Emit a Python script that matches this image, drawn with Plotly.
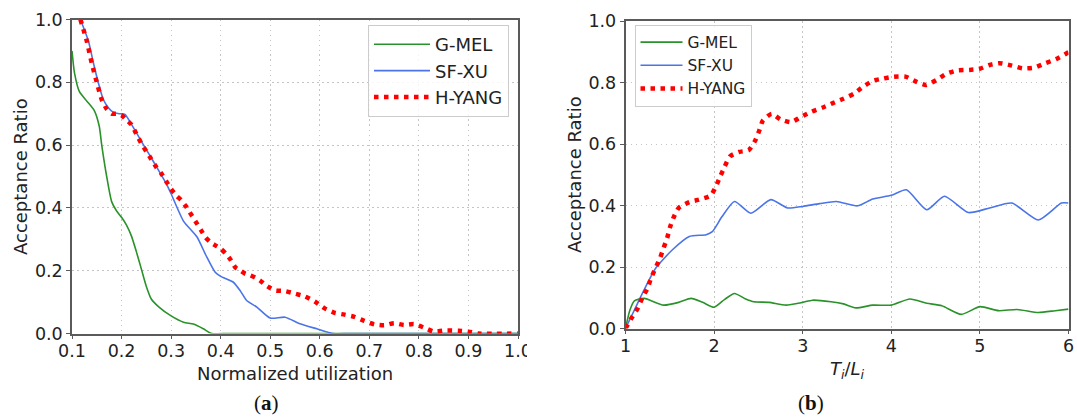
import plotly.graph_objects as go

W, H = 1077, 419

# ---------------- Panel (a): Normalized utilization ----------------
gmel_a_x = [0.100, 0.105, 0.115, 0.130, 0.145, 0.155, 0.160, 0.170, 0.180, 0.190, 0.200, 0.210,
            0.220, 0.230, 0.240, 0.250, 0.260, 0.275, 0.300, 0.325, 0.345, 0.365, 0.382, 0.420, 1.000]
gmel_a_y = [0.900, 0.830, 0.770, 0.740, 0.710, 0.660, 0.600, 0.500, 0.420, 0.390, 0.370, 0.345,
            0.310, 0.260, 0.205, 0.150, 0.110, 0.085, 0.056, 0.036, 0.030, 0.015, 0.000, 0.000, 0.000]

sfxu_a_x = [0.117, 0.133, 0.143, 0.153, 0.163, 0.173, 0.183, 0.195, 0.207, 0.220, 0.243, 0.266,
            0.291, 0.300, 0.325, 0.352, 0.370, 0.389, 0.400, 0.425, 0.440, 0.452, 0.473, 0.500,
            0.530, 0.560, 0.594, 0.627, 0.660, 1.000]
sfxu_a_y = [1.000, 0.932, 0.863, 0.799, 0.746, 0.720, 0.705, 0.700, 0.698, 0.666, 0.604, 0.543,
            0.475, 0.445, 0.358, 0.308, 0.250, 0.195, 0.182, 0.164, 0.135, 0.106, 0.084, 0.049,
            0.052, 0.031, 0.015, 0.000, 0.000, 0.000]

hyang_a_x = [0.117, 0.13, 0.14, 0.15, 0.16, 0.17, 0.18, 0.19, 0.20, 0.21, 0.22, 0.23, 0.24, 0.25,
             0.26, 0.27, 0.28, 0.29, 0.30, 0.31, 0.32, 0.33, 0.34, 0.35, 0.36, 0.37, 0.38, 0.39,
             0.40, 0.41, 0.42, 0.43, 0.44, 0.45, 0.46, 0.47, 0.48, 0.49, 0.50, 0.51, 0.53, 0.55,
             0.57, 0.59, 0.61, 0.63, 0.65, 0.67, 0.69, 0.71, 0.73, 0.75, 0.77, 0.79, 0.81, 0.83,
             0.85, 0.88, 0.90, 0.92, 1.00]
hyang_a_y = [1.000, 0.930, 0.860, 0.800, 0.745, 0.715, 0.700, 0.700, 0.695, 0.680, 0.665, 0.635,
             0.605, 0.580, 0.555, 0.530, 0.510, 0.485, 0.460, 0.440, 0.425, 0.405, 0.380, 0.355,
             0.330, 0.305, 0.290, 0.280, 0.270, 0.255, 0.235, 0.210, 0.200, 0.190, 0.185, 0.178,
             0.168, 0.155, 0.145, 0.137, 0.135, 0.127, 0.118, 0.102, 0.080, 0.066, 0.060, 0.053,
             0.040, 0.029, 0.026, 0.033, 0.027, 0.030, 0.019, 0.006, 0.009, 0.009, 0.006, 0.000,
             0.000]

# ---------------- Panel (b): T_i / L_i ----------------
gmel_b_x = [1.00, 1.05, 1.10, 1.21, 1.43, 1.60, 1.74, 1.87, 2.00, 2.12, 2.23, 2.35, 2.45, 2.62,
            2.81, 3.00, 3.11, 3.32, 3.46, 3.60, 3.79, 4.00, 4.21, 4.40, 4.57, 4.79, 5.00, 5.21,
            5.42, 5.66, 5.85, 6.00]
gmel_b_y = [0.000, 0.060, 0.090, 0.098, 0.076, 0.085, 0.098, 0.085, 0.069, 0.095, 0.114, 0.097,
            0.087, 0.085, 0.076, 0.085, 0.092, 0.087, 0.080, 0.067, 0.076, 0.076, 0.096, 0.082,
            0.074, 0.046, 0.071, 0.058, 0.062, 0.052, 0.058, 0.063]

sfxu_b_x = [1.00, 1.10, 1.20, 1.34, 1.53, 1.72, 1.91, 1.98, 2.09, 2.23, 2.415, 2.64, 2.83, 3.00,
            3.19, 3.38, 3.62, 3.79, 4.00, 4.17, 4.40, 4.60, 4.87, 5.11, 5.36, 5.66, 5.92, 6.00]
sfxu_b_y = [0.000, 0.060, 0.120, 0.196, 0.256, 0.299, 0.305, 0.315, 0.364, 0.413, 0.375, 0.419,
            0.392, 0.397, 0.406, 0.413, 0.399, 0.421, 0.433, 0.451, 0.386, 0.430, 0.377, 0.392,
            0.408, 0.353, 0.408, 0.408]

hyang_b_x = [1.00, 1.06, 1.14, 1.19, 1.25, 1.29, 1.34, 1.39, 1.43, 1.47, 1.50, 1.54, 1.60, 1.72,
             1.83, 1.96, 2.02, 2.07, 2.12, 2.18, 2.28, 2.39, 2.46, 2.51, 2.55, 2.65, 2.75, 2.87,
             2.98, 3.10, 3.22, 3.34, 3.46, 3.58, 3.68, 3.79, 3.91, 4.03, 4.16, 4.28, 4.39, 4.51,
             4.62, 4.74, 4.88, 4.99, 5.11, 5.22, 5.36, 5.48, 5.61, 5.74, 5.86, 5.98, 6.00]
hyang_b_y = [0.000, 0.030, 0.067, 0.100, 0.132, 0.165, 0.197, 0.229, 0.262, 0.294, 0.327, 0.359,
             0.392, 0.411, 0.419, 0.432, 0.462, 0.495, 0.527, 0.560, 0.574, 0.580, 0.609, 0.644,
             0.676, 0.698, 0.680, 0.671, 0.688, 0.705, 0.718, 0.733, 0.747, 0.764, 0.786, 0.805,
             0.813, 0.819, 0.819, 0.803, 0.792, 0.808, 0.828, 0.839, 0.841, 0.844, 0.857, 0.863,
             0.855, 0.846, 0.848, 0.863, 0.876, 0.895, 0.898]

series_names = ["G-MEL", "SF-XU", "H-YANG"]
y_ticks = [0.0, 0.2, 0.4, 0.6, 0.8, 1.0]
x_ticks_a = [0.1, 0.2, 0.3, 0.4, 0.5, 0.6, 0.7, 0.8, 0.9, 1.0]
x_ticks_b = [1, 2, 3, 4, 5, 6]

GREEN = "#2a922a"
BLUE = "#4a74e8"
RED = "#ff0000"
FONT = "DejaVu Sans"
TXT = "#222222"
FRAME = "#5a5a5a"
GRID = "#c4c4c4"

fig = go.Figure()

def add_panel(xs, ys, xa, ya, legend):
    styles = [dict(color=GREEN, width=1.6), dict(color=BLUE, width=1.6),
              dict(color=RED, width=4.5, dash="4.5px,5.5px")]
    for name, x, y, st in zip(series_names, xs, ys, styles):
        fig.add_trace(go.Scatter(x=x, y=y, mode="lines", name=name, xaxis=xa, yaxis=ya,
                                 legend=legend, line=dict(shape="spline", smoothing=0.6, **st),
                                 cliponaxis=True))

add_panel([gmel_a_x, sfxu_a_x, hyang_a_x], [gmel_a_y, sfxu_a_y, hyang_a_y], "x", "y", "legend")
add_panel([gmel_b_x, sfxu_b_x, hyang_b_x], [gmel_b_y, sfxu_b_y, hyang_b_y], "x2", "y2", "legend2")

axis_common = dict(showline=True, linecolor=FRAME, linewidth=1.5, mirror=True,
                   ticks="outside", ticklen=4, tickwidth=1.2, tickcolor=FRAME,
                   showgrid=True, gridcolor=GRID, gridwidth=1.3, griddash="1.5px,3.5px",
                   zeroline=False, automargin=False,
                   tickfont=dict(family=FONT, size=17.5, color=TXT))

def px_x(p):
    return p / W

def px_y(p):
    return 1 - p / H

fig.update_layout(
    width=W, height=H, autosize=False,
    margin=dict(l=0, r=0, t=0, b=0),
    paper_bgcolor="white", plot_bgcolor="white",
    showlegend=True,
    xaxis=dict(domain=[px_x(72), px_x(518)], range=[0.1, 1.0], tickvals=x_ticks_a,
               tickformat=".1f", anchor="y", ticklabelstandoff=-3, **axis_common),
    yaxis=dict(domain=[px_y(333.5), px_y(19.5)], range=[0, 1], tickvals=y_ticks,
               tickformat=".1f", anchor="x", **axis_common),
    xaxis2=dict(domain=[px_x(625.5), px_x(1068.5)], range=[1, 6], tickvals=x_ticks_b,
                tickformat="d", anchor="y2", ticklabelstandoff=-3, **axis_common),
    yaxis2=dict(domain=[px_y(328.5), px_y(21)], range=[0, 1], tickvals=y_ticks,
                tickformat=".1f", anchor="x2", **axis_common),
    legend=dict(x=px_x(368), y=px_y(25), xanchor="left", yanchor="top", itemwidth=56,
                bgcolor="rgba(255,255,255,0.85)", bordercolor="#cccccc", borderwidth=1,
                font=dict(family=FONT, size=18, color=TXT)),
    legend2=dict(x=px_x(634.5), y=px_y(24.5), xanchor="left", yanchor="top", itemwidth=42,
                 bgcolor="rgba(255,255,255,0.85)", bordercolor="#cccccc", borderwidth=1,
                 font=dict(family=FONT, size=15.5, color=TXT)),
)

ann_font = dict(family=FONT, size=18, color=TXT)
annotations = [
    dict(text="Acceptance Ratio", x=px_x(20), y=px_y(177), textangle=-90, font=ann_font),
    dict(text="Acceptance Ratio", x=px_x(574), y=px_y(175), textangle=-90, font=ann_font),
    dict(text="Normalized utilization", x=px_x(295), y=px_y(373), font=ann_font),
    dict(text="<i>T</i><sub><i>i</i></sub>/<i>L</i><sub><i>i</i></sub>", x=px_x(847),
         y=px_y(370), font=ann_font),
    dict(text="(<b>a</b>)", x=px_x(266), y=px_y(403),
         font=dict(family="Liberation Serif", size=21, color="#111111")),
    dict(text="(<b>b</b>)", x=px_x(811), y=px_y(403),
         font=dict(family="Liberation Serif", size=21, color="#111111")),
]
for a in annotations:
    a.update(xref="paper", yref="paper", showarrow=False, xanchor="center", yanchor="middle")
fig.update_layout(annotations=annotations)

# the reference's left sub-figure is cropped just right of the "1.0" tick label
fig.add_shape(type="rect", xref="paper", yref="paper", x0=px_x(527), x1=px_x(545),
              y0=px_y(365), y1=px_y(338), fillcolor="white", line=dict(width=0), layer="above")

fig.write_html("out.html", config={"displayModeBar": False},
               post_script="document.body.style.margin='0';document.body.style.overflow='hidden';")
